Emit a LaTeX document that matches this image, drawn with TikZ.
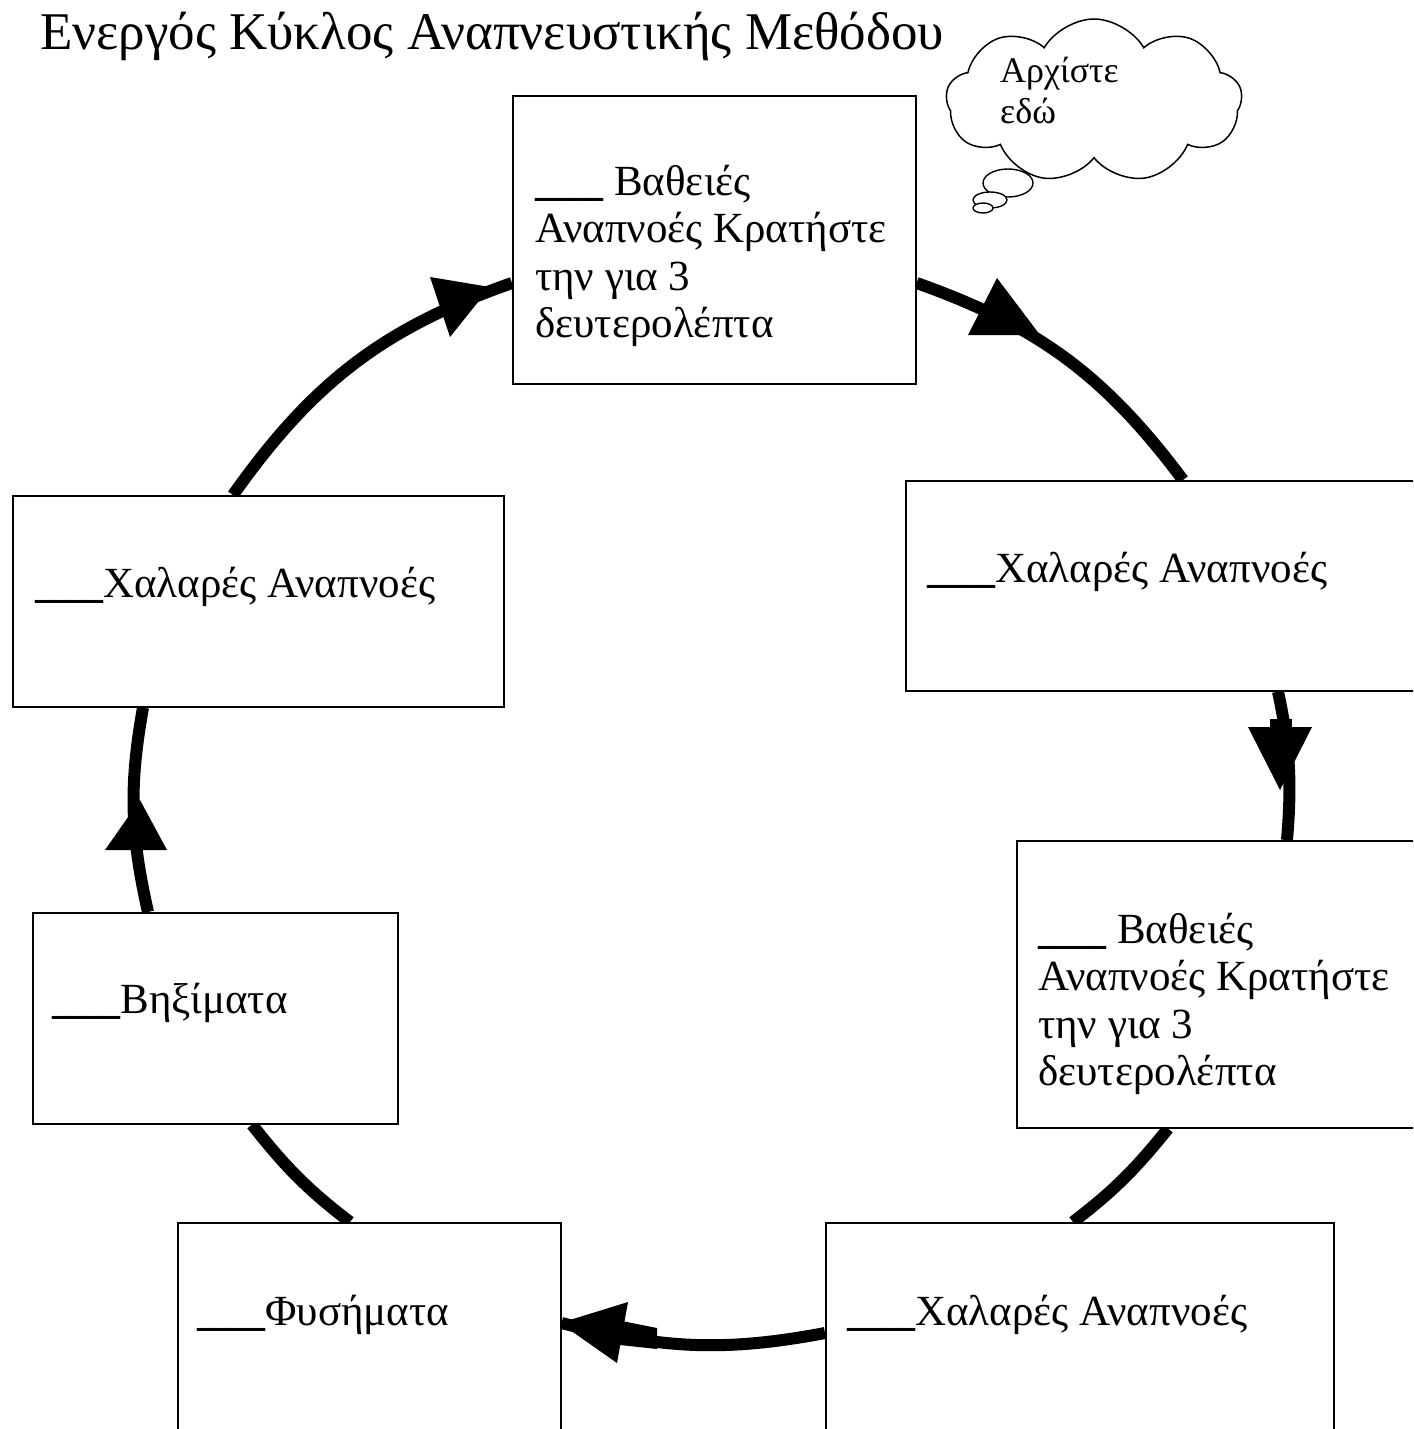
\documentclass[tikz,border=0pt]{standalone}
\usepackage{graphicx}
\usepackage{fontspec}
\setmainfont{Liberation Serif}
\usetikzlibrary{shapes.symbols,backgrounds}
\newcommand{\blank}{\scalebox{0.79}[1]{\textbf{\_\_\_\_}}}
\begin{document}
\begin{tikzpicture}[x=1pt,y=-1pt,
  box/.style={draw, line width=1.6pt, fill=white, rectangle, anchor=north west, inner sep=0pt},
  boxtext/.style={inner sep=0pt, align=left, font=\fontsize{43}{47.5}\selectfont},
  conn/.style={line width=12pt},
  head/.style={fill=black},
  bubble/.style={draw, line width=1.4pt, fill=white}
]
\useasboundingbox (0,0) rectangle (1413,1429);
\clip (0,0) rectangle (1413,1429);

% title
\node[anchor=base west, inner sep=0pt, font=\fontsize{53}{60}\selectfont] (title) at (40,50) {Ενεργός Κύκλος Αναπνευστικής Μεθόδου};

% boxes
\node[box, minimum width=403pt, minimum height=288pt] (top) at (512,95) {};
\node[box, minimum width=545pt, minimum height=210pt] (rx) at (905,480) {};
\node[box, minimum width=434pt, minimum height=287pt] (rb) at (1016,840) {};
\node[box, minimum width=508pt, minimum height=240pt] (bx) at (825,1222) {};
\node[box, minimum width=383pt, minimum height=240pt] (fy) at (177,1222) {};
\node[box, minimum width=365pt, minimum height=211pt] (bz) at (32,912) {};
\node[box, minimum width=491pt, minimum height=211pt] (lx) at (12,495) {};

% box texts
\node[boxtext, anchor=north west] (ttop) at (535,161) {\rule{0pt}{34pt}\blank{} Βαθειές\\Αναπνοές Κρατήστε\\την για 3\\δευτερολέπτα};
\node[boxtext, anchor=base west] (trx) at (927,582) {\blank Χαλαρές Αναπνοές};
\node[boxtext, anchor=north west] (trb) at (1038,909) {\rule{0pt}{34pt}\blank{} Βαθειές\\Αναπνοές Κρατήστε\\την για 3\\δευτερολέπτα};
\node[boxtext, anchor=base west] (tbx) at (847,1325) {\blank Χαλαρές Αναπνοές};
\node[boxtext, anchor=base west] (tfy) at (197,1325) {\blank Φυσήματα};
\node[boxtext, anchor=base west] (tbz) at (52,1013) {\blank Βηξίματα};
\node[boxtext, anchor=base west] (tlx) at (35,597) {\blank Χαλαρές Αναπνοές};

% thought cloud
\node[cloud, draw, line width=1.5pt, fill=white, cloud puffs=9, cloud puff arc=120, cloud ignores aspect, minimum width=296pt, minimum height=164pt, inner sep=0pt] (cl) at (1094,101) {};
\draw[bubble] (1008,183) ellipse [x radius=25, y radius=14];
\draw[bubble] (990,200) ellipse [x radius=17, y radius=8];
\draw[bubble] (983,208) ellipse [x radius=10, y radius=5];
\node[anchor=base west, inner sep=0pt, align=left, font=\fontsize{36}{41}\selectfont] (cltext) at (1000,123) {Αρχίστε\\εδώ};

% connectors
\begin{scope}[on background layer]
\fill[white] (0,0) rectangle (1413,1429);
\draw[conn] (top.east |- 0,283) to[out=-19.5,in=126.8] (rx.north -| 1183,0);
\draw[conn] (rx.south -| 1278,0) to[out=-78.1,in=85.3] (rb.north -| 1287,0);
\draw[conn] (rb.south -| 1168,0) to[out=-128.9,in=37.4] (bx.north -| 1073,0);
\draw[conn] (bx.west |- 0,1333) to[out=-169.3,in=-14.5] (fy.east |- 0,1323);
\draw[conn] (fy.north -| 350,0) to[out=142.6,in=-51.7] (bz.south -| 252,0);
\draw[conn] (bz.north -| 148,0) to[out=102.7,in=-100.1] (lx.south -| 143,0);
\draw[conn] (lx.north -| 233,0) to[out=54.7,in=-160.7] (top.west |- 0,283);
\end{scope}

% arrowheads
\fill[head] (997,278) -- (968,335) -- (1040,335) -- cycle;
\fill[head] (1248,727) -- (1312,727) -- (1280,790) -- cycle;
\fill[head] (1270,719) rectangle (1292,728);
\fill[head] (560,1323) -- (628,1302) -- (617,1363) -- cycle;
\fill[head] (622,1321) -- (657,1328) -- (657,1349) -- (620,1345) -- cycle;
\fill[head] (140,800) -- (105,850) -- (167,850) -- cycle;
\fill[head] (430,277) -- (490,287) -- (450,337) -- cycle;
\end{tikzpicture}
\end{document}
